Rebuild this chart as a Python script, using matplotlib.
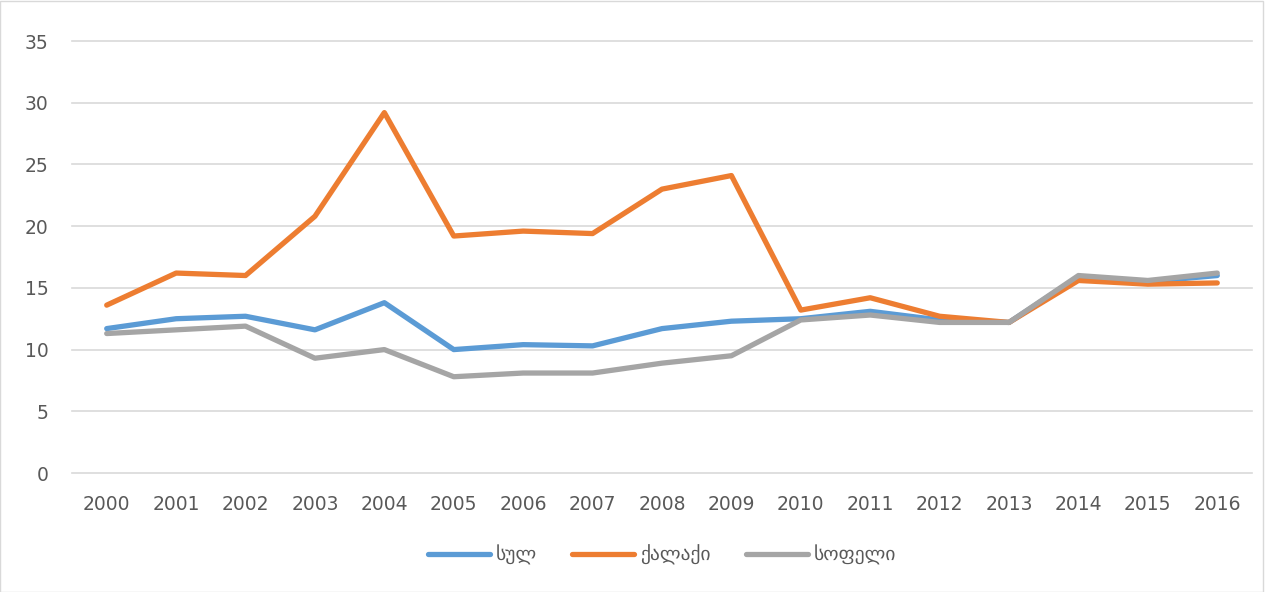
import matplotlib.pyplot as plt
from matplotlib.patches import Rectangle

years = [str(y) for y in range(2000, 2017)]
total = [11.7, 12.5, 12.7, 11.6, 13.8, 10.0, 10.4, 10.3, 11.7, 12.3, 12.5, 13.1, 12.4, 12.2, 15.9, 15.5, 16.0]
urban = [13.6, 16.2, 16.0, 20.8, 29.2, 19.2, 19.6, 19.4, 23.0, 24.1, 13.2, 14.2, 12.7, 12.2, 15.6, 15.3, 15.4]
rural = [11.3, 11.6, 11.9, 9.3, 10.0, 7.8, 8.1, 8.1, 8.9, 9.5, 12.4, 12.8, 12.2, 12.2, 16.0, 15.6, 16.2]
labels = ['სულ', 'ქალაქი', 'სოფელი']
colors = ['#5B9BD5', '#ED7D31', '#A5A5A5']

fig = plt.figure(figsize=(12.7, 5.92), dpi=100)
ax = fig.add_axes([0.0567, 0.201, 0.9291, 0.7297])

x = range(len(years))
for vals, lab, c in zip([total, urban, rural], labels, colors):
    ax.plot(x, vals, color=c, lw=3.8, label=lab, solid_capstyle='round', solid_joinstyle='round')

ax.set_xlim(-0.5, len(years) - 0.5)
ax.set_ylim(0, 35)
ax.set_yticks(range(0, 36, 5))
ax.set_xticks(list(x))
ax.set_xticklabels(years)
ax.grid(axis='y', color='#D9D9D9', lw=1.2)
for gl in ax.get_ygridlines():
    gl.set_clip_on(False)
ax.set_axisbelow(True)
for s in ax.spines.values():
    s.set_visible(False)
ax.tick_params(length=0, labelsize=13.5, labelcolor='#595959')
ax.tick_params(axis='x', pad=16)
ax.tick_params(axis='y', pad=17)

ax.legend(loc='upper center', bbox_to_anchor=(0.5, -0.125), ncol=3, frameon=False,
          fontsize=14, handlelength=3.2, columnspacing=1.8, handletextpad=0.3,
          labelcolor='#595959')

fig.patches.append(Rectangle((0.0, 0.0), 0.9945, 0.999, transform=fig.transFigure,
                             fill=False, edgecolor='#D9D9D9', lw=1))

plt.savefig('out.png', dpi=100)
